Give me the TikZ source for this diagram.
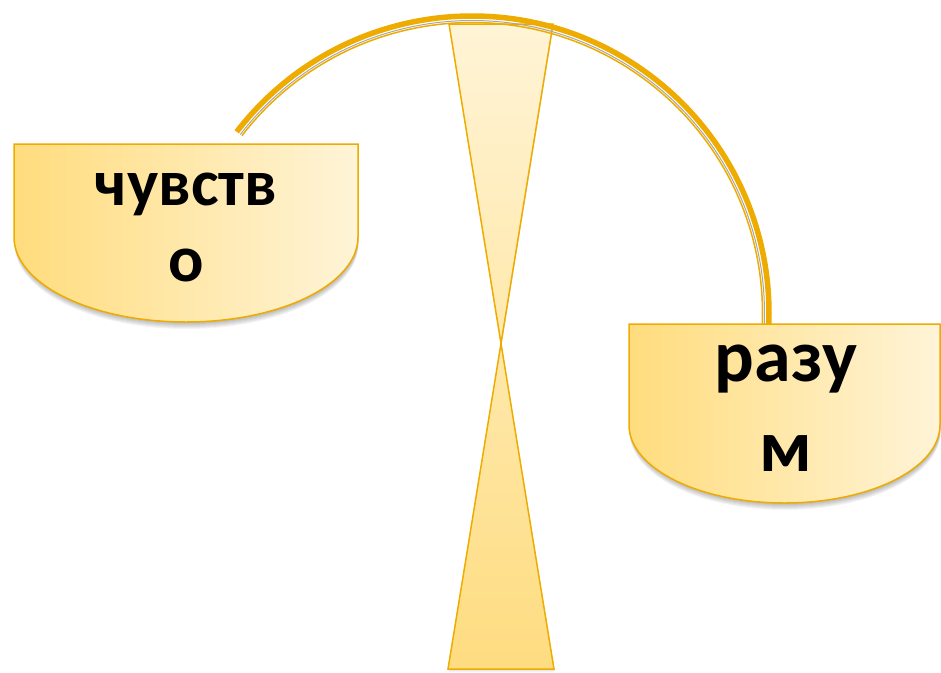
\documentclass[tikz,border=0pt]{standalone}
\usepackage{fontspec}
\setmainfont{Carlito}
\definecolor{gold}{RGB}{238,172,0}
\definecolor{panL}{RGB}{255,220,125}
\definecolor{panR}{RGB}{255,244,216}
\definecolor{hgTop}{RGB}{255,244,214}
\definecolor{hgBot}{RGB}{254,220,128}
\tikzset{
  pan/.style={draw=gold, line width=1.5pt, left color=panL, right color=panR},
  glass/.style={draw=gold, line width=1.5pt, top color=hgTop, bottom color=hgBot},
  softshade/.style={fill=black, opacity=0.045},
  beamthick/.style={gold, line width=5.5pt},
  beamgap/.style={black!35, line width=1pt},
  beamthin/.style={gold, line width=1.5pt},
  wordA/.style={anchor=base, font=\bfseries\fontsize{66}{66}\selectfont},
  wordB/.style={anchor=base, font=\bfseries\fontsize{74}{74}\selectfont}
}
\newcommand{\leftpanpath}{(14,144) -- (358,144) -- (358,237)
  arc[start angle=0, end angle=180, x radius=172, y radius=85] -- cycle}
\newcommand{\rightpanpath}{(629,324) -- (940,324) -- (940,425)
  arc[start angle=0, end angle=180, x radius=155.5, y radius=78] -- cycle}
\begin{document}
\begin{tikzpicture}[x=1pt,y=-1pt]
\useasboundingbox (0,0) rectangle (941,672);
% hourglass stand
\foreach \s in {1,2,3} {
  \fill[softshade, xshift=0.5pt, yshift=-\s pt] (449,24) -- (553,24) -- (448,669) -- (554,669) -- cycle;
}
\path[glass] (449,24) -- (553,24) -- (448,669) -- (554,669) -- cycle;
% beam arc
\coordinate (c) at (472,313);
\draw[beamthick] (c) ++(217.6:297) arc[start angle=217.6, end angle=362.5, radius=297];
\draw[beamgap] (c) ++(217.6:292.5) arc[start angle=217.6, end angle=362.5, radius=292.5];
\draw[beamthin] (c) ++(217.6:290.5) arc[start angle=217.6, end angle=362.5, radius=290.5];
% pan shadows (soft)
\foreach \s in {1,2,...,7} {
  \fill[softshade, xshift=0.5pt, yshift=-\s pt] \leftpanpath;
  \fill[softshade, xshift=0.5pt, yshift=-\s pt] \rightpanpath;
}
% pans
\path[pan] \leftpanpath;
\path[pan] \rightpanpath;
% texts
\node[wordA] (l1) at (186,205) {чувств};
\node[wordA] (l2) at (186,281) {о};
\node[wordB] (r1) at (786,381) {разу};
\node[wordB] (r2) at (786,471) {м};
\end{tikzpicture}
\end{document}
